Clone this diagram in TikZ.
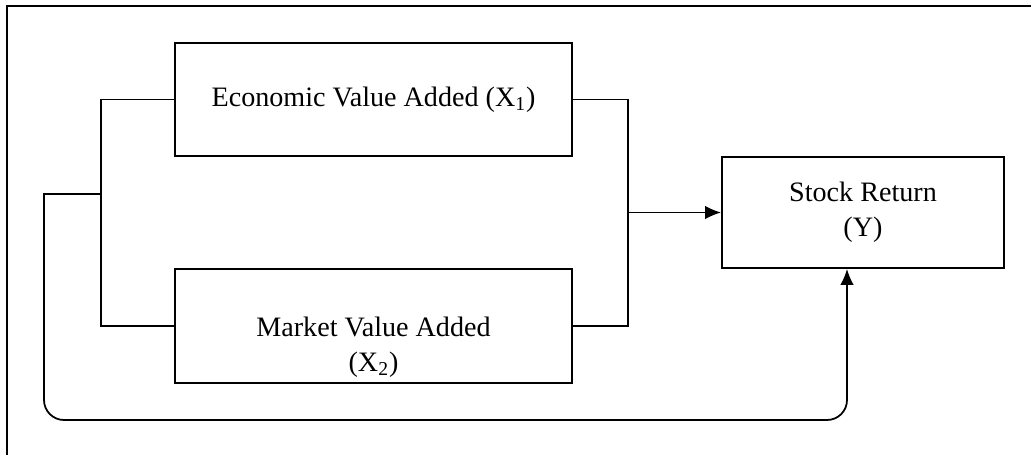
\documentclass[tikz,border=0pt]{standalone}
\usepackage{fontspec}
\setmainfont{Liberation Serif}
\usepackage{tikz}
\usetikzlibrary{arrows.meta,calc}

\tikzset{
  varbox/.style={draw=black, line width=1pt, inner sep=0pt, minimum width=7.94cm, minimum height=2.27cm, align=center},
  link/.style={black, line width=1pt},
  tip/.style={-{Latex[length=0.32cm,width=0.27cm]}},
}

\begin{document}
\begin{tikzpicture}[font=\fontsize{16}{20}\selectfont]
\useasboundingbox (0cm,0cm) rectangle (20.62cm,-9.10cm);
% frame (only top and left edges show)
\draw[link] (0.14cm,-9.10cm) -- (0.14cm,-0.12cm) -- (20.62cm,-0.12cm);
% boxes
\node[varbox] (eva) at (7.47cm,-1.99cm) {Economic Value Added (X\textsubscript{1})};
\node[varbox] (mva) at (7.47cm,-6.52cm) {};
\node[align=center] (mvatext) at ([yshift=-0.42cm]mva.center) {Market Value Added\\(X\textsubscript{2})};
\node[varbox, minimum width=5.64cm, minimum height=2.22cm] (ret) at (17.26cm,-4.25cm) {Stock Return\\(Y)};
% bracket points
\coordinate (lbr) at (2.02cm,-3.88cm);
\coordinate (rbr) at (12.56cm,0cm);
\coordinate (fbl) at (0.88cm,-8.40cm);
\coordinate (fbr) at (16.94cm,-8.40cm);
% left bracket
\draw[link] (eva.west) -| (lbr) |- (mva.west);
% right bracket and arrow to Y
\draw[link] (eva.east) -| (rbr |- mva.east) -- (mva.east);
\draw[link, tip] (rbr |- ret.west) -- (ret.west);
% feedback line
\draw[link, tip] (lbr) -- (lbr -| fbl) [rounded corners=0.4cm] -- (fbl) -- (fbr) -- (fbr |- ret.south);
\end{tikzpicture}
\end{document}
